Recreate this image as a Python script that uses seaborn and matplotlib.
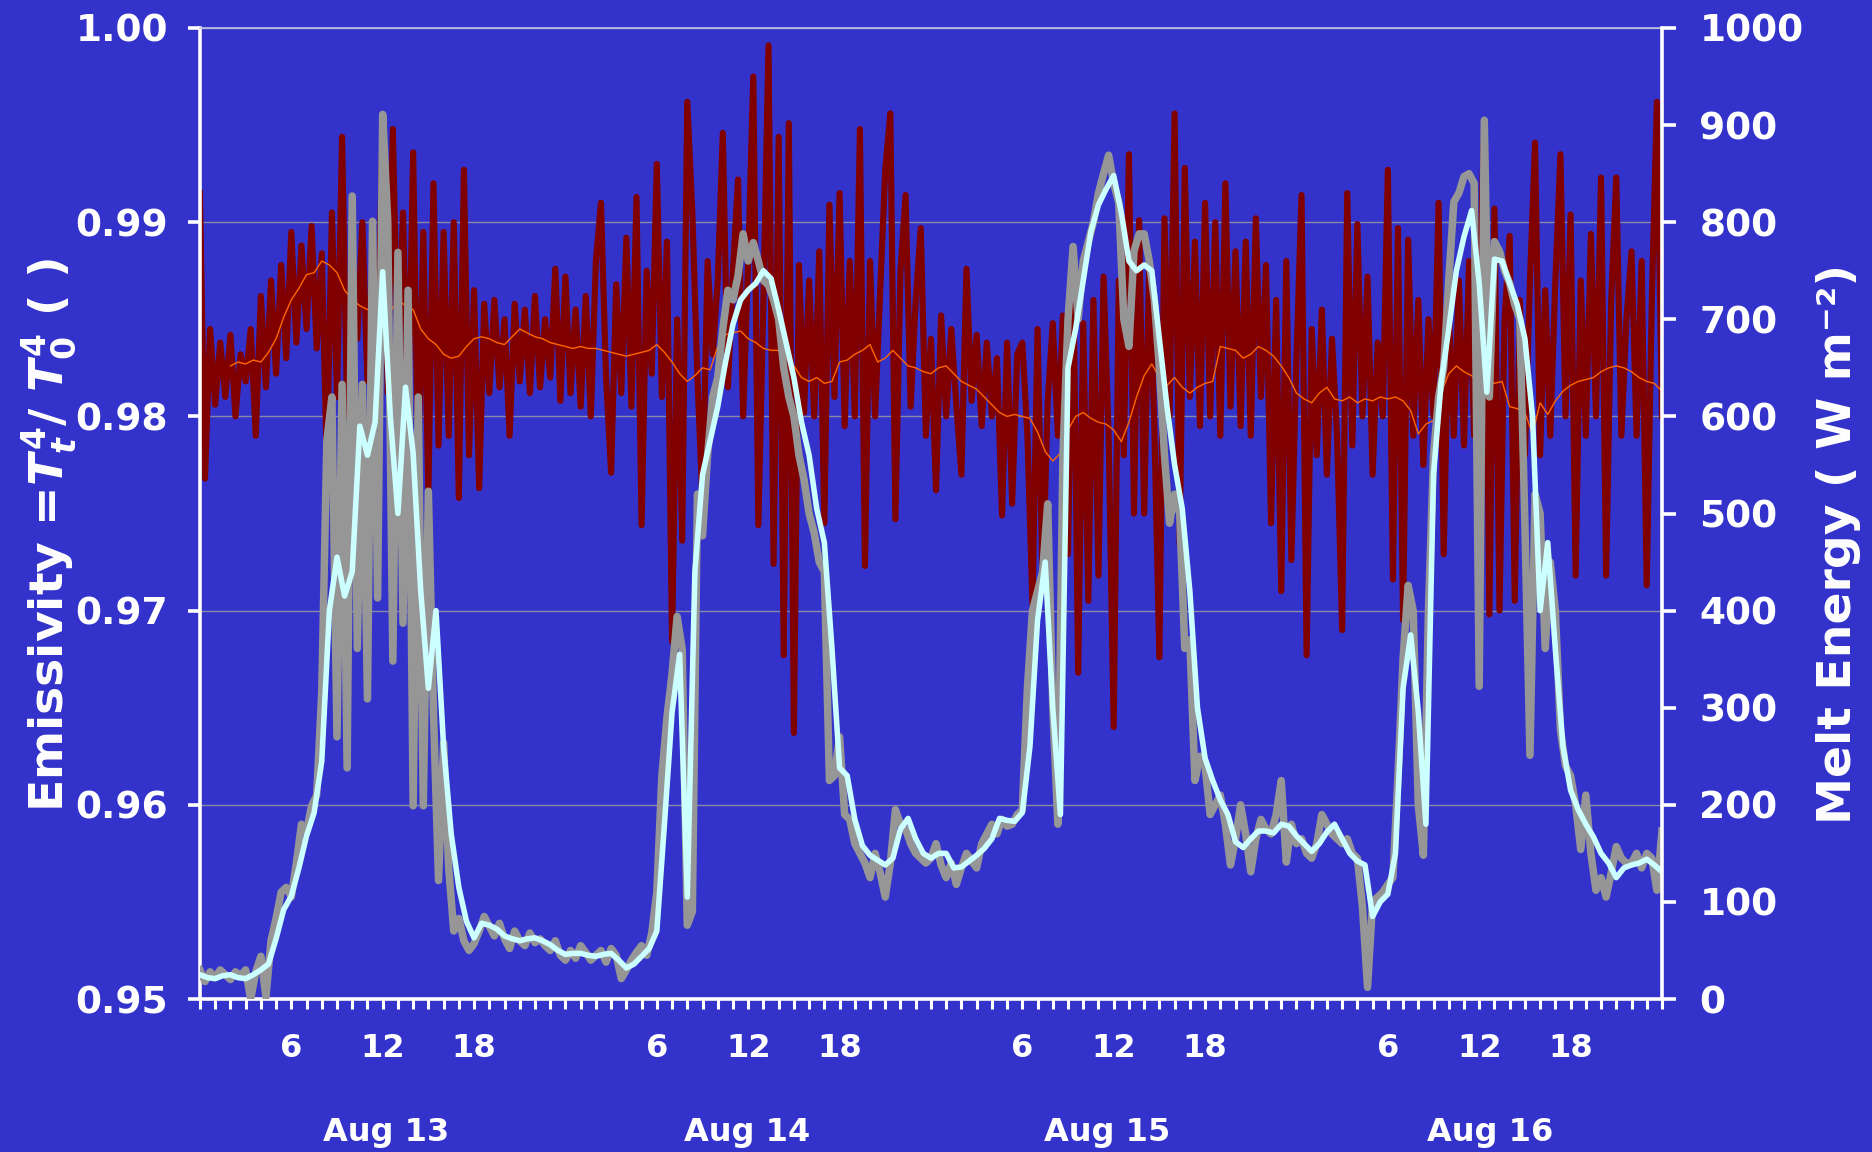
import numpy as np
import matplotlib
matplotlib.use('Agg')
import matplotlib.pyplot as plt
import seaborn as sns

# raw emissivity, one value every 20 min, 00:00 Aug 13 -> 00:00 Aug 17
emis_raw = [
    0.9915, 0.9768, 0.9845, 0.9806, 0.9838, 0.9810,
    0.9842, 0.9800, 0.9832, 0.9818, 0.9845, 0.9790,
    0.9862, 0.9815, 0.9870, 0.9822, 0.9878, 0.9830,
    0.9895, 0.9838, 0.9888, 0.9845, 0.9898, 0.9835,
    0.9884, 0.9775, 0.9905, 0.9810, 0.9944, 0.9800,
    0.9870, 0.9840, 0.9900, 0.9818, 0.9880, 0.9830,
    0.9954, 0.9812, 0.9948, 0.9825, 0.9905, 0.9795,
    0.9936, 0.9770, 0.9895, 0.9760, 0.9920, 0.9785,
    0.9895, 0.9790, 0.9900, 0.9758, 0.9927, 0.9780,
    0.9865, 0.9763, 0.9858, 0.9812, 0.9860, 0.9815,
    0.9850, 0.9790, 0.9858, 0.9818, 0.9855, 0.9812,
    0.9862, 0.9815, 0.9850, 0.9820, 0.9876, 0.9808,
    # Aug 14
    0.9872, 0.9812, 0.9855, 0.9805, 0.9862, 0.9800,
    0.9880, 0.9910, 0.9820, 0.9771, 0.9868, 0.9812,
    0.9892, 0.9805, 0.9913, 0.9744, 0.9875, 0.9822,
    0.9930, 0.9810, 0.9890, 0.9684, 0.9850, 0.9736,
    0.9962, 0.9905, 0.9820, 0.9755, 0.9880, 0.9832,
    0.9870, 0.9946, 0.9815, 0.9875, 0.9922, 0.9800,
    0.9880, 0.9975, 0.9744, 0.9860, 0.9991, 0.9724,
    0.9944, 0.9677, 0.9951, 0.9637, 0.9878, 0.9802,
    0.9870, 0.9800, 0.9885, 0.9745, 0.9909, 0.9810,
    0.9915, 0.9795, 0.9880, 0.9800, 0.9948, 0.9723,
    0.9880, 0.9800, 0.9865, 0.9927, 0.9956, 0.9747,
    0.9875, 0.9914, 0.9805, 0.9860, 0.9897, 0.9790,
    # Aug 15
    0.9840, 0.9762, 0.9852, 0.9800, 0.9845, 0.9806,
    0.9770, 0.9876, 0.9808, 0.9842, 0.9795, 0.9838,
    0.9800, 0.9830, 0.9749, 0.9838, 0.9755, 0.9832,
    0.9838, 0.9790, 0.9703, 0.9845, 0.9712, 0.9808,
    0.9848, 0.9790, 0.9852, 0.9729, 0.9886, 0.9668,
    0.9848, 0.9705, 0.9860, 0.9718, 0.9872, 0.9790,
    0.9640, 0.9870, 0.9780, 0.9935, 0.9750, 0.9901,
    0.9750, 0.9880, 0.9795, 0.9676, 0.9902, 0.9800,
    0.9956, 0.9734, 0.9928, 0.9810, 0.9890, 0.9795,
    0.9910, 0.9800, 0.9900, 0.9790, 0.9920, 0.9805,
    0.9885, 0.9795, 0.9890, 0.9790, 0.9902, 0.9810,
    0.9878, 0.9745, 0.9860, 0.9710, 0.9880, 0.9726,
    # Aug 16
    0.9830, 0.9914, 0.9677, 0.9845, 0.9780, 0.9855,
    0.9770, 0.9840, 0.9790, 0.9690, 0.9915, 0.9785,
    0.9899, 0.9800, 0.9872, 0.9770, 0.9838, 0.9800,
    0.9927, 0.9716, 0.9897, 0.9695, 0.9891, 0.9790,
    0.9860, 0.9775, 0.9850, 0.9800, 0.9910, 0.9729,
    0.9855, 0.9790, 0.9870, 0.9785, 0.9880, 0.9790,
    0.9860, 0.9952, 0.9698, 0.9907, 0.9700, 0.9850,
    0.9893, 0.9705, 0.9860, 0.9780, 0.9870, 0.9941,
    0.9780, 0.9865, 0.9790, 0.9870, 0.9935, 0.9800,
    0.9904, 0.9718, 0.9870, 0.9790, 0.9894, 0.9800,
    0.9923, 0.9718, 0.9860, 0.9923, 0.9790, 0.9850,
    0.9885, 0.9790, 0.9880, 0.9713, 0.9860, 0.9962,
    0.9800,
]

# raw melt energy (W m-2), every 20 min
melt_raw = [
    30, 18, 28, 22, 30, 25,
    20, 28, 24, 30, 0, 28,
    44, 2, 60, 83, 110, 115,
    105, 140, 180, 173, 199, 210,
    316, 575, 620, 270, 633, 238,
    827, 361, 633, 309, 801, 413,
    911, 801, 348, 769, 387, 730,
    199, 620, 199, 523, 296, 122,
    264, 135, 70, 83, 60, 50,
    57, 70, 85, 75, 65, 78,
    62, 52, 70, 60, 55, 68,
    58, 62, 55, 50, 60, 45,
    # Aug 14
    40, 50, 42, 55, 48, 40,
    45, 50, 38, 52, 45, 21,
    30, 40, 48, 55, 45, 68,
    110, 230, 290, 335, 394, 360,
    76, 90, 520, 477, 560, 620,
    640, 690, 730, 720, 745, 788,
    760, 779, 760, 740, 735, 720,
    700, 650, 620, 600, 560, 535,
    500, 480, 450, 440, 225, 230,
    270, 190, 185, 160, 150, 140,
    125, 150, 130, 105, 140, 195,
    180, 175, 160, 150, 145, 140,
    # Aug 15
    145, 160, 138, 125, 140, 118,
    135, 150, 142, 135, 160, 170,
    180, 170, 185, 178, 180, 190,
    195, 320, 400, 420, 440, 510,
    300, 180, 560, 700, 775, 700,
    760, 780, 800, 830, 850, 869,
    840, 820, 700, 672, 770, 788,
    788, 760, 720, 650, 560, 490,
    520, 500, 361, 370, 225, 250,
    240, 190, 200, 210, 180, 138,
    165, 200, 170, 131, 165, 185,
    175, 170, 190, 225, 141, 180,
    # Aug 16
    160, 165, 150, 145, 160, 190,
    180, 170, 165, 160, 165, 150,
    145, 95, 12, 100, 105, 110,
    118, 125, 230, 350, 426, 400,
    200, 148, 400, 560, 620, 650,
    740, 821, 830, 847, 850, 840,
    322, 905, 620, 780, 770, 750,
    737, 715, 700, 490, 251, 520,
    500, 361, 450, 400, 277, 240,
    230, 200, 154, 210, 150, 112,
    125, 105, 130, 157, 145, 140,
    140, 150, 135, 150, 145, 112,
    173,
]

# smoothed melt energy, every 30 min
melt_smooth = [
    25, 22, 21, 24, 25, 22, 21, 25,
    30, 36, 62, 92, 106, 135, 168, 192,
    245, 400, 455, 415, 440, 590, 560, 594,
    749, 600, 500, 630, 562, 420, 320, 400,
    260, 170, 115, 80, 63, 78, 76, 72,
    65, 62, 60, 62, 63, 60, 56, 50,
    46, 47, 47, 45, 44, 46, 47, 40,
    32, 36, 44, 52, 70, 180, 295, 355,
    105, 440, 540, 575, 610, 655, 695, 720,
    730, 737, 750, 742, 710, 675, 640, 594,
    560, 505, 470, 361, 238, 230, 185, 158,
    148, 143, 138, 145, 175, 186, 165, 150,
    145, 150, 150, 135, 136, 142, 148, 155,
    165, 186, 184, 183, 192, 260, 390, 450,
    300, 190, 650, 690, 740, 790, 818, 834,
    848, 810, 760, 750, 756, 750, 680, 610,
    550, 505, 420, 300, 248, 225, 205, 190,
    162, 156, 165, 173, 173, 171, 180, 178,
    168, 160, 152, 160, 172, 180, 165, 150,
    142, 138, 85, 100, 108, 150, 320, 375,
    296, 180, 540, 635, 690, 750, 785, 812,
    737, 625, 762, 760, 737, 715, 680, 600,
    400, 470, 360, 260, 215, 195, 180, 167,
    150, 140, 125, 135, 138, 140, 144, 138,
    131,
]

# smoothed emissivity, every 30 min (running mean starts at 02:00)
emis_smooth = [
    np.nan, np.nan, np.nan, np.nan, 0.9826, 0.9828, 0.9827, 0.9829,
    0.9828, 0.9833, 0.9840, 0.9851, 0.9860, 0.9866, 0.9873, 0.9874,
    0.9880, 0.9878, 0.9874, 0.9865, 0.9860, 0.9857, 0.9855, 0.9857,
    0.9861, 0.9854, 0.9860, 0.9857, 0.9855, 0.9845, 0.9840, 0.9837,
    0.9832, 0.9830, 0.9831, 0.9836, 0.9840, 0.9841, 0.9840, 0.9838,
    0.9837, 0.9841, 0.9845, 0.9843, 0.9841, 0.9840, 0.9838, 0.9837,
    0.9836, 0.9835, 0.9836, 0.9835, 0.9835, 0.9834, 0.9833, 0.9832,
    0.9831, 0.9832, 0.9833, 0.9834, 0.9837, 0.9833, 0.9828, 0.9822,
    0.9818, 0.9821, 0.9825, 0.9824, 0.9836, 0.9842, 0.9843, 0.9844,
    0.9840, 0.9838, 0.9835, 0.9834, 0.9834, 0.9830, 0.9826, 0.9820,
    0.9818, 0.9820, 0.9817, 0.9818, 0.9828, 0.9829, 0.9832, 0.9834,
    0.9837, 0.9828, 0.9830, 0.9834, 0.9830, 0.9826, 0.9825, 0.9823,
    0.9822, 0.9825, 0.9826, 0.9822, 0.9818, 0.9816, 0.9814, 0.9810,
    0.9806, 0.9802, 0.9800, 0.9801, 0.9800, 0.9799, 0.9792, 0.9782,
    0.9777, 0.9781, 0.9793, 0.9800, 0.9802, 0.9799, 0.9797, 0.9796,
    0.9793, 0.9787, 0.9797, 0.9810, 0.9821, 0.9827, 0.9820, 0.9816,
    0.9820, 0.9815, 0.9812, 0.9815, 0.9817, 0.9818, 0.9836, 0.9835,
    0.9834, 0.9830, 0.9832, 0.9836, 0.9834, 0.9831, 0.9826, 0.9820,
    0.9812, 0.9809, 0.9807, 0.9812, 0.9815, 0.9809, 0.9808, 0.9810,
    0.9807, 0.9809, 0.9808, 0.9810, 0.9809, 0.9810, 0.9808, 0.9803,
    0.9791, 0.9796, 0.9798, 0.9812, 0.9822, 0.9826, 0.9823, 0.9821,
    0.9818, 0.9820, 0.9817, 0.9818, 0.9805, 0.9804, 0.9802, 0.9791,
    0.9807, 0.9801, 0.9808, 0.9813, 0.9816, 0.9818, 0.9819, 0.9820,
    0.9823, 0.9825, 0.9826, 0.9825, 0.9823, 0.9820, 0.9818, 0.9817,
    0.9813,
]

hour_ticks = [6, 12, 18, 30, 36, 42, 54, 60, 66, 78, 84, 90]
hour_labels = ['6', '12', '18'] * 4
day_pos = [12.2, 35.9, 59.6, 84.7]
day_labels = ['Aug 13', 'Aug 14', 'Aug 15', 'Aug 16']
emis_ticks = [0.95, 0.96, 0.97, 0.98, 0.99, 1.00]
melt_ticks = [0, 100, 200, 300, 400, 500, 600, 700, 800, 900, 1000]

t_raw = np.arange(len(emis_raw)) / 3      # hours since 00:00 Aug 13
t_smooth = np.arange(len(melt_smooth)) / 2

BLUE = '#3333CC'
plt.rcParams['font.family'] = ['DejaVu Sans']
plt.rcParams['font.weight'] = 'bold'
plt.rcParams['mathtext.fontset'] = 'custom'
plt.rcParams['mathtext.rm'] = 'DejaVu Sans:bold'
plt.rcParams['mathtext.it'] = 'DejaVu Sans:italic:bold'
plt.rcParams['mathtext.bf'] = 'DejaVu Sans:bold'

fig = plt.figure(figsize=(18.72, 11.52), dpi=100, facecolor=BLUE)
ax = fig.add_axes([0.1068, 0.1328, 0.781, 0.8429])
ax.set_facecolor(BLUE)

sns.lineplot(x=t_raw, y=emis_raw, ax=ax, color='#800000', linewidth=4.4, estimator=None)
sns.lineplot(x=t_smooth, y=emis_smooth, ax=ax, color='#FF6600', linewidth=1.0, estimator=None)
ax.set_xlim(0, 96)
ax.set_ylim(0.95, 1.00)

ax2 = ax.twinx()
sns.lineplot(x=t_raw, y=melt_raw, ax=ax2, color='#969696', linewidth=5.4, estimator=None)
sns.lineplot(x=t_smooth, y=melt_smooth, ax=ax2, color='#CCFFFF', linewidth=4.0, estimator=None)
ax2.set_ylim(0, 1000)
ax2.set_xlim(0, 96)

for a in (ax, ax2):
    for s in a.spines.values():
        s.set_visible(False)
for side, a in (('left', ax), ('bottom', ax), ('right', ax2)):
    a.spines[side].set_visible(True)
    a.spines[side].set_color('white')
    a.spines[side].set_linewidth(2.6)
ax.spines['top'].set_visible(True)
ax.spines['top'].set_color('#C4C4E4')
ax.spines['top'].set_linewidth(1.2)

ax.set_yticks(emis_ticks)
ax.yaxis.set_major_formatter('{x:.2f}')
ax.yaxis.grid(True, color='#8888A8', linewidth=1.0)
ax.tick_params(axis='y', direction='out', length=9, width=2.6, color='white',
               labelcolor='white', labelsize=27, pad=14)
ax2.set_yticks(melt_ticks)
ax2.tick_params(axis='y', direction='out', length=10, width=2.6, color='white',
                labelcolor='white', labelsize=27, pad=17)

ax.set_xticks(hour_ticks)
ax.set_xticklabels(hour_labels)
ax.set_xticks(np.arange(0, 97), minor=True)
ax.tick_params(axis='x', which='both', direction='out', length=7.5, width=2.2, color='white')
ax.tick_params(axis='x', which='major', labelsize=23, labelcolor='white', pad=17)
ax.set_xlabel('')
ax.set_ylabel('')
ax2.set_ylabel('')

for x, lab in zip(day_pos, day_labels):
    ax.text(x, -0.137, lab, transform=ax.get_xaxis_transform(), ha='center', va='center',
            fontsize=23, color='white', fontweight='bold')

fig.text(0.026, 0.536, 'Emissivity =$T_t^{4}$/ $T_0^{4}$ ( )', rotation=90, ha='center',
         va='center', fontsize=34, color='white', fontweight='bold')
fig.text(0.982, 0.528, 'Melt Energy ( W m\u207b\u00b2)', rotation=90, ha='center',
         va='center', fontsize=34, color='white', fontweight='bold')

fig.savefig('out.png', dpi=100, facecolor=BLUE)
